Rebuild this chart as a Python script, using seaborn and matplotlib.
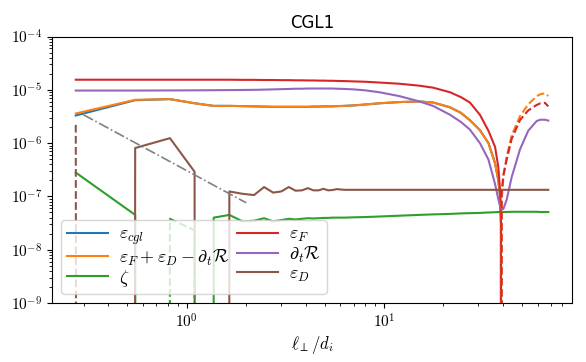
import numpy as np
import pandas as pd
import matplotlib
matplotlib.use('Agg')
import matplotlib.pyplot as plt
from matplotlib.ticker import FuncFormatter
import seaborn as sns

plt.rcParams['mathtext.fontset'] = 'cm'

# scale l_perp / d_i
ell = [0.274, 0.548, 0.822, 1.096, 1.37, 1.644, 1.918, 2.192, 2.466, 2.74,
       3.014, 3.288, 3.562, 3.836, 4.11, 4.384, 4.658, 4.932, 5.206, 5.48,
       5.754, 6.3, 7.0, 8.0, 9.5, 12.0, 15.0, 17.7, 21.6, 24.5,
       27.2, 30.6, 33.8, 36.5, 37.9, 38.7, 39.1, 39.4, 40.2, 41.8,
       44.3, 48.8, 53.7, 59.3, 62.0, 65.3, 67.9]

eps_cgl = [3.3e-6, 6.4e-6, 6.7e-6, 5.6e-6, 5.0e-6, 5.0e-6, 4.95e-6, 4.9e-6, 4.85e-6, 4.8e-6,
           4.8e-6, 4.8e-6, 4.8e-6, 4.8e-6, 4.8e-6, 4.85e-6, 4.85e-6, 4.9e-6, 4.9e-6, 4.9e-6,
           4.95e-6, 5.0e-6, 5.1e-6, 5.3e-6, 5.6e-6, 5.9e-6, 6.05e-6, 5.8e-6, 4.7e-6, 3.7e-6,
           2.7e-6, 1.75e-6, 1.0e-6, 4.2e-7, 2.0e-7, 1.0e-7, 3e-8, -8e-8, -2.3e-7, -5.6e-7,
           -1.4e-6, -3.2e-6, -5.3e-6, -7.6e-6, -8.3e-6, -8.6e-6, -7.7e-6]

eps_sum = [3.6e-6, 6.5e-6, 6.7e-6, 5.6e-6, 5.0e-6, 5.0e-6, 4.95e-6, 4.9e-6, 4.85e-6, 4.8e-6,
           4.8e-6, 4.8e-6, 4.8e-6, 4.8e-6, 4.8e-6, 4.85e-6, 4.85e-6, 4.9e-6, 4.9e-6, 4.9e-6,
           4.95e-6, 5.0e-6, 5.1e-6, 5.3e-6, 5.6e-6, 5.9e-6, 6.05e-6, 5.8e-6, 4.7e-6, 3.7e-6,
           2.7e-6, 1.75e-6, 1.0e-6, 4.2e-7, 2.0e-7, 1.0e-7, 3e-8, -8e-8, -2.3e-7, -5.6e-7,
           -1.4e-6, -3.2e-6, -5.3e-6, -7.6e-6, -8.3e-6, -8.6e-6, -7.7e-6]

zeta = [2.8e-7, 4.5e-8, -3.8e-8, -2.3e-8, 4.0e-8, 4.5e-8, 3.4e-8, 3.5e-8, 3.9e-8, 3.4e-8,
        3.6e-8, 3.8e-8, 3.7e-8, 3.8e-8, 3.9e-8, 3.85e-8, 3.9e-8, 3.95e-8, 3.95e-8, 4.0e-8,
        4.0e-8, 4.0e-8, 4.05e-8, 4.1e-8, 4.2e-8, 4.35e-8, 4.5e-8, 4.6e-8, 4.7e-8, 4.8e-8,
        4.85e-8, 4.9e-8, 5.0e-8, 5.05e-8, 5.1e-8, 5.1e-8, 5.1e-8, 5.1e-8, 5.1e-8, 5.1e-8,
        5.15e-8, 5.15e-8, 5.15e-8, 5.15e-8, 5.1e-8, 5.1e-8, 5.1e-8]

eps_F = [1.55e-5, 1.55e-5, 1.55e-5, 1.55e-5, 1.55e-5, 1.55e-5, 1.54e-5, 1.54e-5, 1.53e-5, 1.53e-5,
         1.52e-5, 1.52e-5, 1.51e-5, 1.51e-5, 1.5e-5, 1.5e-5, 1.49e-5, 1.49e-5, 1.48e-5, 1.48e-5,
         1.47e-5, 1.46e-5, 1.44e-5, 1.42e-5, 1.37e-5, 1.30e-5, 1.2e-5, 1.1e-5, 9.0e-6, 7.3e-6,
         5.8e-6, 3.4e-6, 1.7e-6, 8.5e-7, 3.6e-7, 1.3e-7, 4e-8, -1.15e-7, -2.5e-7, -4.9e-7,
         -1.2e-6, -2.7e-6, -4.1e-6, -5.2e-6, -5.6e-6, -5.7e-6, -4.9e-6]

dtR = [9.7e-6, 9.7e-6, 9.75e-6, 9.8e-6, 9.85e-6, 9.9e-6, 9.95e-6, 1.0e-5, 1.01e-5, 1.02e-5,
       1.03e-5, 1.04e-5, 1.05e-5, 1.05e-5, 1.06e-5, 1.06e-5, 1.06e-5, 1.06e-5, 1.06e-5, 1.06e-5,
       1.05e-5, 1.04e-5, 1.02e-5, 9.8e-6, 9.0e-6, 7.6e-6, 6.1e-6, 5.0e-6, 3.4e-6, 2.5e-6,
       1.8e-6, 1.0e-6, 4.9e-7, 1.7e-7, 9e-8, 6.5e-8, 6.0e-8, 5.7e-8, 5.8e-8, 8.7e-8,
       2.3e-7, 7.6e-7, 1.7e-6, 2.6e-6, 2.75e-6, 2.75e-6, 2.65e-6]

eps_D = [-2.2e-6, 8.1e-7, 1.24e-6, 2.9e-7, 0.0, 1.24e-7, 1.12e-7, 1.06e-7, 1.5e-7, 1.18e-7,
         1.24e-7, 1.5e-7, 1.28e-7, 1.3e-7, 1.43e-7, 1.3e-7, 1.3e-7, 1.39e-7, 1.3e-7, 1.32e-7,
         1.37e-7, 1.33e-7, 1.33e-7, 1.33e-7, 1.33e-7, 1.33e-7, 1.33e-7, 1.33e-7, 1.33e-7, 1.33e-7,
         1.33e-7, 1.33e-7, 1.33e-7, 1.33e-7, 1.33e-7, 1.33e-7, 1.33e-7, 1.33e-7, 1.33e-7, 1.33e-7,
         1.33e-7, 1.33e-7, 1.33e-7, 1.33e-7, 1.33e-7, 1.33e-7, 1.33e-7]

# l^-2 guide line
ref_x = [0.3, 2.0]
ref_y = [3.4e-6, 7.6e-8]

labels = [r'$\varepsilon_{cgl}$', r'$\varepsilon_F+\varepsilon_D-\partial_t\mathcal{R}$', r'$\zeta$',
          r'$\varepsilon_F$', r'$\partial_t\mathcal{R}$', r'$\varepsilon_D$']
colors = sns.color_palette('tab10', 6)

fig, ax = plt.subplots(figsize=(5.86, 3.62), dpi=100)
fig.subplots_adjust(left=0.089, right=0.976, bottom=0.163, top=0.899)
ax.set_xscale('log')
ax.set_yscale('log')

series = [eps_cgl, eps_sum, zeta, eps_F, dtR, eps_D]
handles = []
for vals, c in zip(series, colors):
    sns.lineplot(x=ell, y=vals, ax=ax, color=c, lw=1.5, estimator=None, errorbar=None)
    handles.append(ax.lines[-1])

# negative parts drawn dashed
for vals, c in [(eps_sum, colors[1]), (zeta, colors[2]), (eps_F, colors[3]), (eps_D, colors[5])]:
    sns.lineplot(x=ell, y=[-v for v in vals], ax=ax, color=c, lw=1.5, linestyle='--',
                 estimator=None, errorbar=None)

sns.lineplot(x=ref_x, y=ref_y, ax=ax, color='gray', lw=1.2, linestyle='-.',
             estimator=None, errorbar=None)

ax.set_ylim(1e-9, 1e-4)
ax.set_xlim(0.208, 89.5)
ax.yaxis.set_major_formatter(FuncFormatter(lambda v, p: r'$10^{%d}$' % round(np.log10(v))))
ax.xaxis.set_major_formatter(FuncFormatter(lambda v, p: r'$10^{%d}$' % round(np.log10(v))))
ax.tick_params(labelsize=11)
ax.set_xlabel(r'$\ell_\perp/d_i$', fontsize=12, labelpad=2)
ax.set_ylabel('')
ax.set_title('CGL1', fontsize=12)

ax.legend(handles, labels, loc='lower left', ncol=2, fontsize=13, columnspacing=0.4,
          handlelength=2.3, handletextpad=0.6, labelspacing=0.0, borderpad=0.3,
          borderaxespad=0.5)

fig.savefig('out.png', dpi=100)
